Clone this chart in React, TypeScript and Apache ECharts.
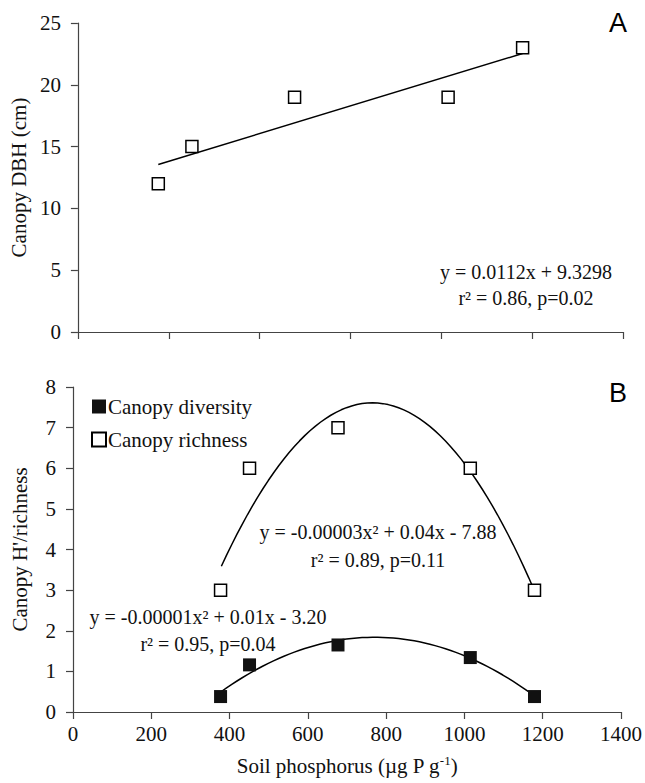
import React, { useEffect, useRef } from "react";
import * as echarts from "echarts";

// Soil phosphorus (µg P g-1) for the five sites
const phosphorus = [377, 451, 677, 1015, 1179];
// Panel A
const canopyDbh = [12, 15, 19, 19, 23];
// Panel B
const canopyRichness = [3, 6, 7, 6, 3];
const canopyDiversity = [0.38, 1.16, 1.65, 1.34, 0.38];

// Fitted trend lines as drawn
const dbhFit = { slope: 0.0112, intercept: 9.3298, from: 377, to: 1179 };
const richnessFit = { peakX: 765, peakY: 7.61, curvature: -2.7e-5, from: 379, to: 1178 };
const diversityFit = { peakX: 771, peakY: 1.84, curvature: -8.69e-6, from: 379, to: 1178 };

const eqA = ["y = 0.0112x + 9.3298", "r² = 0.86, p=0.02"];
const eqRichness = ["y = -0.00003x² + 0.04x - 7.88", "r² = 0.89, p=0.11"];
const eqDiversity = ["y = -0.00001x² + 0.01x - 3.20", "r² = 0.95, p=0.04"];

const SERIF = "'Liberation Serif', 'Times New Roman', serif";
const SANS = "'Liberation Sans', Arial, sans-serif";
const INK = "#111";
const AXIS = "#444";

function quadCurve(f: { peakX: number; peakY: number; curvature: number; from: number; to: number }) {
  const pts: number[][] = [];
  const n = 60;
  for (let i = 0; i <= n; i++) {
    const x = f.from + ((f.to - f.from) * i) / n;
    pts.push([x, f.peakY + f.curvature * (x - f.peakX) * (x - f.peakX)]);
  }
  return pts;
}

export default function App() {
  const ref = useRef<HTMLDivElement>(null);
  useEffect(() => {
    if (!ref.current) return;
    const chart = echarts.init(ref.current, undefined, { renderer: "svg" });
    const axisCommon = {
      axisLine: { show: true, lineStyle: { color: AXIS, width: 1.2 } },
      axisTick: { show: true, length: 7, lineStyle: { color: AXIS, width: 1.2 } },
      splitLine: { show: false },
      axisLabel: { fontFamily: SERIF, fontSize: 21, color: INK, formatter: (v: number) => String(v) },
      nameTextStyle: { fontFamily: SERIF, fontSize: 21, color: INK },
    };
    const openSquare = {
      color: "#fff",
      borderColor: "#000",
      borderWidth: 1.5,
      opacity: 1,
    };
    const eqText = (x: number, y: number, t: string) => ({
      type: "text",
      x,
      y,
      style: {
        text: t,
        fontFamily: SERIF,
        fontSize: 20,
        fill: INK,
        align: "center",
        verticalAlign: "middle",
      },
    });
    chart.setOption({
      animation: false,
      backgroundColor: "#fff",
      grid: [
        { left: 76, right: 22, top: 23, height: 309 },
        { left: 73, right: 24, top: 387, height: 325 },
      ],
      xAxis: [
        {
          ...axisCommon,
          type: "value",
          gridIndex: 0,
          min: 200,
          max: 1400,
          interval: 200,
          axisLabel: { show: false },
        },
        {
          ...axisCommon,
          type: "value",
          gridIndex: 1,
          min: 0,
          max: 1400,
          interval: 200,
          axisLabel: { ...axisCommon.axisLabel, margin: 11 },
          name: "Soil phosphorus (µg P g{sup|-1})",
          nameLocation: "middle",
          nameGap: 42,
          nameTextStyle: {
            ...axisCommon.nameTextStyle,
            rich: {
              sup: { fontFamily: SERIF, fontSize: 13, color: INK, verticalAlign: "top", padding: [0, 0, 10, 0] },
            },
          },
        },
      ],
      yAxis: [
        {
          ...axisCommon,
          type: "value",
          gridIndex: 0,
          min: 0,
          max: 25,
          interval: 5,
          axisLabel: { ...axisCommon.axisLabel, margin: 17 },
          name: "Canopy DBH (cm)",
          nameLocation: "middle",
          nameGap: 46,
        },
        {
          ...axisCommon,
          type: "value",
          gridIndex: 1,
          min: 0,
          max: 8,
          interval: 1,
          axisLabel: { ...axisCommon.axisLabel, margin: 17 },
          name: "Canopy H'/richness",
          nameLocation: "middle",
          nameGap: 43,
        },
      ],
      legend: {
        data: ["Canopy diversity", "Canopy richness"],
        orient: "vertical",
        left: 91,
        top: 396,
        padding: 0,
        itemWidth: 14,
        itemHeight: 14,
        itemGap: 12,
        selectedMode: false,
        icon: "rect",
        textStyle: { fontFamily: SERIF, fontSize: 21, color: INK, padding: [0, 0, 0, -3] },
      },
      series: [
        {
          name: "DBH fit",
          type: "line",
          xAxisIndex: 0,
          yAxisIndex: 0,
          data: [
            [dbhFit.from, dbhFit.slope * dbhFit.from + dbhFit.intercept],
            [dbhFit.to, dbhFit.slope * dbhFit.to + dbhFit.intercept],
          ],
          showSymbol: false,
          symbol: "none",
          lineStyle: { color: "#000", width: 1.5 },
          z: 2,
        },
        {
          name: "Canopy DBH",
          type: "scatter",
          xAxisIndex: 0,
          yAxisIndex: 0,
          data: phosphorus.map((x, i) => [x, canopyDbh[i]]),
          symbol: "rect",
          symbolSize: 12,
          itemStyle: openSquare,
          z: 5,
        },
        {
          name: "Richness fit",
          type: "line",
          xAxisIndex: 1,
          yAxisIndex: 1,
          data: quadCurve(richnessFit),
          symbol: "none",
          lineStyle: { color: "#000", width: 1.5 },
          z: 2,
        },
        {
          name: "Diversity fit",
          type: "line",
          xAxisIndex: 1,
          yAxisIndex: 1,
          data: quadCurve(diversityFit),
          symbol: "none",
          lineStyle: { color: "#000", width: 1.5 },
          z: 2,
        },
        {
          name: "Canopy diversity",
          type: "scatter",
          xAxisIndex: 1,
          yAxisIndex: 1,
          data: phosphorus.map((x, i) => [x, canopyDiversity[i]]),
          symbol: "rect",
          symbolSize: 13,
          itemStyle: { color: "#111", opacity: 1 },
          z: 5,
        },
        {
          name: "Canopy richness",
          type: "scatter",
          xAxisIndex: 1,
          yAxisIndex: 1,
          data: phosphorus.map((x, i) => [x, canopyRichness[i]]),
          symbol: "rect",
          symbolSize: 12,
          itemStyle: openSquare,
          z: 5,
        },
      ],
      graphic: [
        {
          type: "text",
          x: 618,
          y: 23,
          style: { text: "A", fontFamily: SANS, fontSize: 27, fill: "#000", align: "center", verticalAlign: "middle" },
        },
        {
          type: "text",
          x: 618,
          y: 393,
          style: { text: "B", fontFamily: SANS, fontSize: 27, fill: "#000", align: "center", verticalAlign: "middle" },
        },
        eqText(526, 272, eqA[0]),
        eqText(526, 298, eqA[1]),
        eqText(378, 532, eqRichness[0]),
        eqText(378, 560, eqRichness[1]),
        eqText(208, 617, eqDiversity[0]),
        eqText(208, 644, eqDiversity[1]),
      ],
    });
    return () => chart.dispose();
  }, []);
  return (
    <div
      ref={ref}
      style={{ position: "fixed", left: 0, top: 0, width: 645, height: 783, background: "#fff" }}
    />
  );
}
